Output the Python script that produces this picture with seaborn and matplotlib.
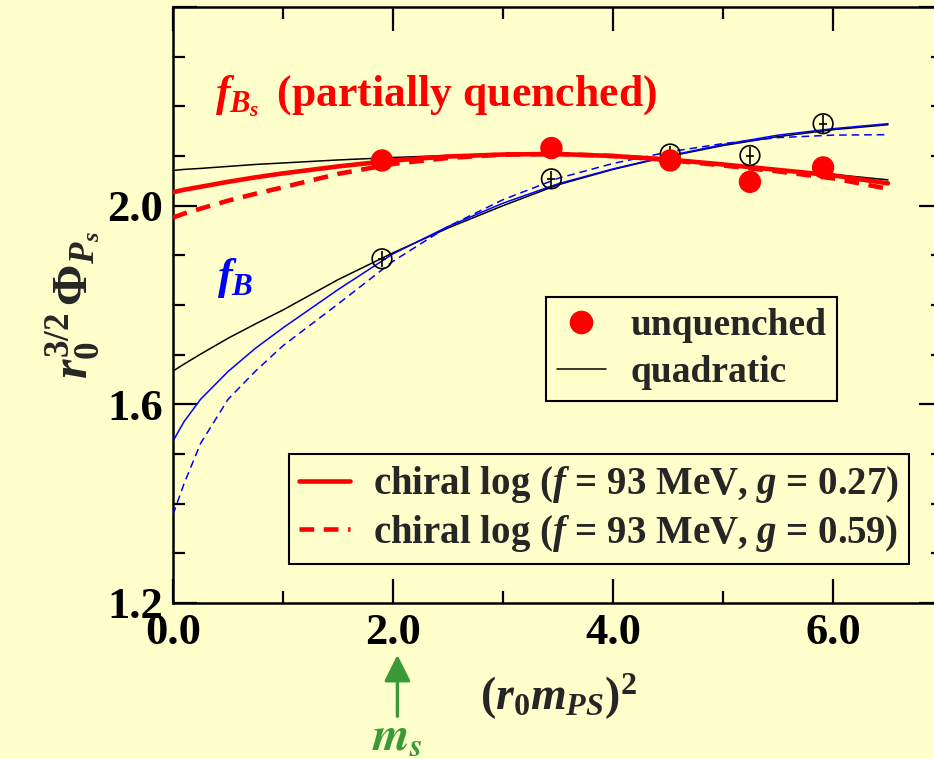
import numpy as np
import pandas as pd
import matplotlib
matplotlib.use("Agg")
import matplotlib.pyplot as plt
from matplotlib.ticker import FixedLocator, MultipleLocator
from matplotlib.lines import Line2D
import seaborn as sns

# ---------------- data ----------------
x_data = [1.90, 3.44, 4.52, 5.245, 5.91]
unquenched = [2.091, 2.116, 2.091, 2.048, 2.077]
pq_fB = [1.893, 2.054, 2.104, 2.101, 2.165]
pq_fB_err = [0.016, 0.016, 0.016, 0.018, 0.018]

x_curve = [0.0, 0.1, 0.25, 0.5, 0.75, 1.0, 1.5, 2.0, 2.5, 3.0, 3.5, 4.0, 4.5, 5.0, 5.5, 6.0, 6.5]
quad_fBs = [2.071, 2.073, 2.075, 2.079, 2.083, 2.086, 2.092, 2.097, 2.101, 2.103, 2.104, 2.100, 2.093, 2.084, 2.073, 2.063, 2.052]
chi27_fBs = [2.027, 2.032, 2.038, 2.048, 2.057, 2.065, 2.079, 2.091, 2.099, 2.103, 2.104, 2.100, 2.093, 2.083, 2.072, 2.061, 2.045]
chi59_fBs = [1.976, 1.984, 1.994, 2.010, 2.024, 2.037, 2.064, 2.084, 2.096, 2.103, 2.104, 2.100, 2.092, 2.081, 2.069, 2.055, 2.034]
quad_fB = [1.667, 1.681, 1.701, 1.733, 1.762, 1.790, 1.851, 1.905, 1.955, 2.000, 2.042, 2.073, 2.099, 2.121, 2.139, 2.153, 2.163]
chi27_fB = [1.526, 1.565, 1.610, 1.666, 1.713, 1.754, 1.831, 1.903, 1.958, 2.005, 2.044, 2.074, 2.100, 2.123, 2.142, 2.155, 2.165]
chi59_fB = [1.378, 1.440, 1.521, 1.610, 1.667, 1.718, 1.802, 1.888, 1.958, 2.012, 2.055, 2.085, 2.108, 2.125, 2.137, 2.142, 2.143]

x_ticks = [0.0, 2.0, 4.0, 6.0]
x_tick_labels = ["0.0", "2.0", "4.0", "6.0"]
y_ticks = [1.2, 1.6, 2.0, 2.4]
y_tick_labels = ["1.2", "1.6", "2.0", ""]
m_s_pos = 2.04

legend1_labels = ["unquenched", "quadratic"]
legend2_labels = [r"chiral log ($f$ = 93 MeV, $g$ = 0.27)",
                  r"chiral log ($f$ = 93 MeV, $g$ = 0.59)"]

# ---------------- style ----------------
BG = "#FFFFCC"
RED = "#FF0000"
BLUE = "#0000FF"
GREEN = "#3A9A3A"

sns.set_style("ticks")
plt.rcParams["font.family"] = ["Liberation Serif", "DejaVu Serif"]
plt.rcParams["font.weight"] = "bold"
plt.rcParams["mathtext.fontset"] = "custom"
plt.rcParams["mathtext.rm"] = "Liberation Serif:bold"
plt.rcParams["mathtext.it"] = "Liberation Serif:italic:bold"
plt.rcParams["mathtext.bf"] = "Liberation Serif:bold"
plt.rcParams["axes.unicode_minus"] = False

fig = plt.figure(figsize=(9.34, 7.59), dpi=100, facecolor=BG)
ax = fig.add_axes([173 / 934, 156 / 759, 770 / 934, 596 / 759])
ax.set_facecolor(BG)

curves = pd.DataFrame({
    "x": x_curve,
    "quad_fBs": quad_fBs, "chi27_fBs": chi27_fBs, "chi59_fBs": chi59_fBs,
    "quad_fB": quad_fB, "chi27_fB": chi27_fB, "chi59_fB": chi59_fB,
})

thin = 1.1
thick = 3.3
sns.lineplot(data=curves, x="x", y="quad_fB", ax=ax, color="black", lw=thin, zorder=2)
sns.lineplot(data=curves, x="x", y="quad_fBs", ax=ax, color="black", lw=thin, zorder=2)
sns.lineplot(data=curves, x="x", y="chi27_fB", ax=ax, color=BLUE, lw=thin, zorder=3)
sns.lineplot(data=curves, x="x", y="chi59_fB", ax=ax, color=BLUE, lw=thin,
             linestyle=(0, (5.0, 3.2)), zorder=3)
sns.lineplot(data=curves, x="x", y="chi27_fBs", ax=ax, color=RED, lw=thick, zorder=4)
sns.lineplot(data=curves, x="x", y="chi59_fBs", ax=ax, color=RED, lw=thick,
             linestyle=(0, (3.2, 2.1)), zorder=4)

# partially quenched f_B data: open circles with error bars
ax.errorbar(x_data, pq_fB, yerr=pq_fB_err, fmt="none", ecolor="black",
            elinewidth=1.2, capsize=0, zorder=5)
sns.scatterplot(x=x_data, y=pq_fB, ax=ax, marker="o", s=200, color="black",
                facecolors="none", edgecolor="black", linewidth=1.2, zorder=5)
sns.scatterplot(x=x_data, y=pq_fB, ax=ax, marker="_", s=40, color="black",
                linewidth=1.2, zorder=5)
# unquenched f_Bs data: filled red circles
sns.scatterplot(x=x_data, y=unquenched, ax=ax, marker="o", s=260, color=RED,
                edgecolor="none", linewidth=0, zorder=6)

# ---------------- axes ----------------
ax.set_xlim(0, 7)
ax.set_ylim(1.2, 2.4)
ax.xaxis.set_major_locator(FixedLocator(x_ticks))
ax.set_xticklabels(x_tick_labels)
ax.xaxis.set_minor_locator(MultipleLocator(1.0))
ax.yaxis.set_major_locator(FixedLocator(y_ticks))
ax.set_yticklabels(y_tick_labels)
ax.yaxis.set_minor_locator(MultipleLocator(0.1))
ax.tick_params(which="both", direction="in", top=True, right=True, width=1.6, colors="black")
ax.tick_params(which="major", length=17, pad=7, labelsize=32)
ax.tick_params(which="minor", length=8.5)
for lab in ax.get_xticklabels() + ax.get_yticklabels():
    lab.set_fontweight("bold")
for sp in ax.spines.values():
    sp.set_linewidth(1.8)
    sp.set_color("black")

ax.set_xlabel(r"$\mathit{(}r_{\mathit{0}}m_{PS}\mathit{)}^{\mathit{2}}$", fontsize=33, labelpad=14)
ax.set_ylabel(r"$r_{\mathit{0}}^{\mathit{3/2}}\,\Phi_{P_s}$", fontsize=36, labelpad=4)

# ---------------- annotations ----------------
ax.text(0.38, 2.199, r"$f_{B_s}\,$ (partially quenched)", color=RED, fontsize=31.5,
        fontweight="bold", va="baseline", ha="left")
ax.text(0.40, 1.832, r"$f_B$", color=BLUE, fontsize=32, va="baseline", ha="left")

trans = ax.get_xaxis_transform()
ax.annotate("", xy=(m_s_pos, -0.087), xytext=(m_s_pos, -0.19), xycoords=trans,
            textcoords=trans, annotation_clip=False,
            arrowprops=dict(arrowstyle="-|>,head_length=0.4,head_width=0.2",
                            color=GREEN, lw=2.4, mutation_scale=40,
                            shrinkA=0, shrinkB=0))
ax.text(m_s_pos, -0.228, r"$m_s$", transform=trans, ha="center", va="center",
        color=GREEN, fontsize=34, math_fontfamily="stix", clip_on=False)

# ---------------- legends ----------------
h1 = Line2D([], [], marker="o", color=RED, linestyle="none", markersize=16)
h2 = Line2D([], [], color="black", lw=thin)
leg1 = ax.legend([h1, h2], legend1_labels, loc="upper left",
                 bbox_to_anchor=(0.484, 0.514), borderaxespad=0, frameon=True,
                 fancybox=False, edgecolor="black", facecolor=BG, framealpha=1,
                 fontsize=27, handlelength=1.3, handletextpad=0.65,
                 borderpad=0.3, labelspacing=0.32)
leg1.get_frame().set_linewidth(1.5)
ax.add_artist(leg1)

h3 = Line2D([], [], color=RED, lw=thick)
h4 = Line2D([], [], color=RED, lw=thick, linestyle=(0, (3.2, 2.1)))
leg2 = ax.legend([h3, h4], legend2_labels, loc="upper left",
                 bbox_to_anchor=(0.1506, 0.25), borderaxespad=0, frameon=True,
                 fancybox=False, edgecolor="black", facecolor=BG, framealpha=1,
                 fontsize=28, handlelength=1.3, handletextpad=0.6,
                 borderpad=0.26, labelspacing=0.2)
leg2.get_frame().set_linewidth(1.5)

fig.savefig("out.png", dpi=100, facecolor=BG)
